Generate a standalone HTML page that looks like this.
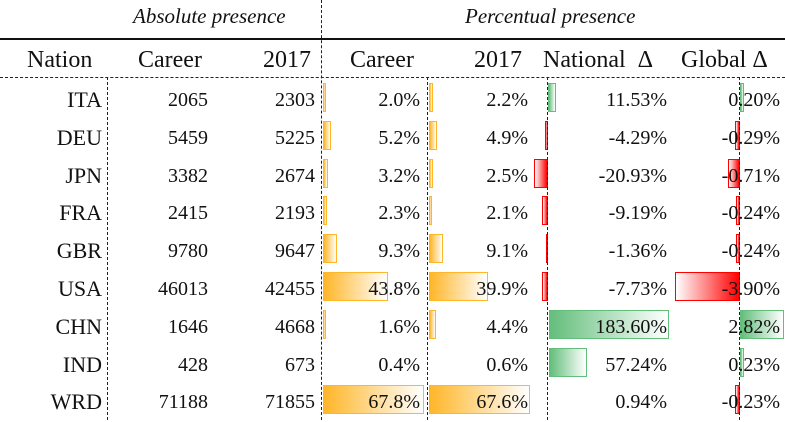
<!DOCTYPE html>
<html><head><meta charset="utf-8"><style>
html,body{margin:0;padding:0;background:#fff;}
body{width:785px;height:420px;position:relative;overflow:hidden;font-family:"Liberation Serif",serif;color:#111;}
.a{position:absolute;white-space:nowrap;}
.r{position:absolute;left:0;width:785px;height:38px;}
.t{position:absolute;top:0;line-height:40px;font-size:20px;text-align:right;z-index:2;white-space:nowrap;}
.n{font-size:22px;right:683px;}
.b{position:absolute;top:3px;height:29px;box-sizing:border-box;border:1.5px solid;z-index:1;}
.o{background:linear-gradient(to right,#FFB628,#fff);border-color:#FFB628;}
.g{background:linear-gradient(to right,#63BE7B,#fff);border-color:#63BE7B;}
.d{background:linear-gradient(to right,#fff,#FF0000);border-color:#FF0000;}
.c1{right:577px}.c2{right:470px}.c3{right:365px}.c4{right:257px}.c5{right:118px}.c6{right:5px}
.v{position:absolute;width:0;border-left:1.3px dashed #222;z-index:3;}
.h{position:absolute;font-size:24px;top:40px;line-height:40px;white-space:nowrap;}
</style></head><body>
<div class="a" style="left:133px;top:4px;font-size:21px;font-style:italic;">Absolute presence</div>
<div class="a" style="left:465px;top:4px;font-size:21px;font-style:italic;">Percentual presence</div>
<div class="a" style="left:0;top:38px;width:785px;height:2px;background:#111;"></div>
<div class="a" style="left:0;top:77px;width:785px;height:0;border-top:1.3px dashed #222;"></div>
<div class="h" style="left:27px;">Nation</div>
<div class="h" style="left:138px;">Career</div>
<div class="h" style="left:263px;">2017</div>
<div class="h" style="left:350px;">Career</div>
<div class="h" style="left:474px;">2017</div>
<div class="h" style="left:543px;">National&nbsp;&nbsp;Δ</div>
<div class="h" style="left:681px;">Global Δ</div>
<div class="v" style="left:321px;top:0;height:420px;"></div>
<div class="v" style="left:107px;top:77px;height:343px;"></div>
<div class="v" style="left:427px;top:77px;height:343px;"></div>
<div class="v" style="left:547px;top:77px;height:343px;"></div>
<div class="v" style="left:739px;top:77px;height:343px;"></div>

<div class="r" style="top:80px">
<div class="t n">ITA</div><div class="t c1">2065</div><div class="t c2">2303</div><div class="t c3">2.0%</div><div class="t c4">2.2%</div><div class="t c5">11.53%</div><div class="t c6">0.20%</div>
<div class="b o" style="left:323px;width:3px"></div><div class="b o" style="left:429px;width:3.5px"></div><div class="b g" style="left:548px;width:8px"></div><div class="b g" style="left:740px;width:3.5px"></div>
</div>
<div class="r" style="top:117.8px">
<div class="t n">DEU</div><div class="t c1">5459</div><div class="t c2">5225</div><div class="t c3">5.2%</div><div class="t c4">4.9%</div><div class="t c5">-4.29%</div><div class="t c6">-0.29%</div>
<div class="b o" style="left:323px;width:8px"></div><div class="b o" style="left:429px;width:7.5px"></div><div class="b d" style="left:545px;width:3px"></div><div class="b d" style="left:735px;width:5px"></div>
</div>
<div class="r" style="top:155.6px">
<div class="t n">JPN</div><div class="t c1">3382</div><div class="t c2">2674</div><div class="t c3">3.2%</div><div class="t c4">2.5%</div><div class="t c5">-20.93%</div><div class="t c6">-0.71%</div>
<div class="b o" style="left:323px;width:5px"></div><div class="b o" style="left:429px;width:4px"></div><div class="b d" style="left:534px;width:14px"></div><div class="b d" style="left:728px;width:12px"></div>
</div>
<div class="r" style="top:193.4px">
<div class="t n">FRA</div><div class="t c1">2415</div><div class="t c2">2193</div><div class="t c3">2.3%</div><div class="t c4">2.1%</div><div class="t c5">-9.19%</div><div class="t c6">-0.24%</div>
<div class="b o" style="left:323px;width:3.5px"></div><div class="b o" style="left:429px;width:3.2px"></div><div class="b d" style="left:542px;width:6px"></div><div class="b d" style="left:736px;width:4px"></div>
</div>
<div class="r" style="top:231.2px">
<div class="t n">GBR</div><div class="t c1">9780</div><div class="t c2">9647</div><div class="t c3">9.3%</div><div class="t c4">9.1%</div><div class="t c5">-1.36%</div><div class="t c6">-0.24%</div>
<div class="b o" style="left:323px;width:14px"></div><div class="b o" style="left:429px;width:13.5px"></div><div class="b d" style="left:546px;width:2px"></div><div class="b d" style="left:736px;width:4px"></div>
</div>
<div class="r" style="top:269px">
<div class="t n">USA</div><div class="t c1">46013</div><div class="t c2">42455</div><div class="t c3">43.8%</div><div class="t c4">39.9%</div><div class="t c5">-7.73%</div><div class="t c6">-3.90%</div>
<div class="b o" style="left:323px;width:65px"></div><div class="b o" style="left:429px;width:59px"></div><div class="b d" style="left:542px;width:6px"></div><div class="b d" style="left:675px;width:65px"></div>
</div>
<div class="r" style="top:306.8px">
<div class="t n">CHN</div><div class="t c1">1646</div><div class="t c2">4668</div><div class="t c3">1.6%</div><div class="t c4">4.4%</div><div class="t c5">183.60%</div><div class="t c6">2.82%</div>
<div class="b o" style="left:323px;width:2.5px"></div><div class="b o" style="left:429px;width:6.5px"></div><div class="b g" style="left:549px;width:120px"></div><div class="b g" style="left:740px;width:44px"></div>
</div>
<div class="r" style="top:344.6px">
<div class="t n">IND</div><div class="t c1">428</div><div class="t c2">673</div><div class="t c3">0.4%</div><div class="t c4">0.6%</div><div class="t c5">57.24%</div><div class="t c6">0.23%</div>
<div class="b g" style="left:549px;width:38px"></div><div class="b g" style="left:740px;width:4px"></div>
</div>
<div class="r" style="top:382.4px">
<div class="t n">WRD</div><div class="t c1">71188</div><div class="t c2">71855</div><div class="t c3">67.8%</div><div class="t c4">67.6%</div><div class="t c5">0.94%</div><div class="t c6">-0.23%</div>
<div class="b o" style="left:323px;width:101px"></div><div class="b o" style="left:429px;width:101px"></div><div class="b d" style="left:735px;width:5px"></div>
</div>
</body></html>
